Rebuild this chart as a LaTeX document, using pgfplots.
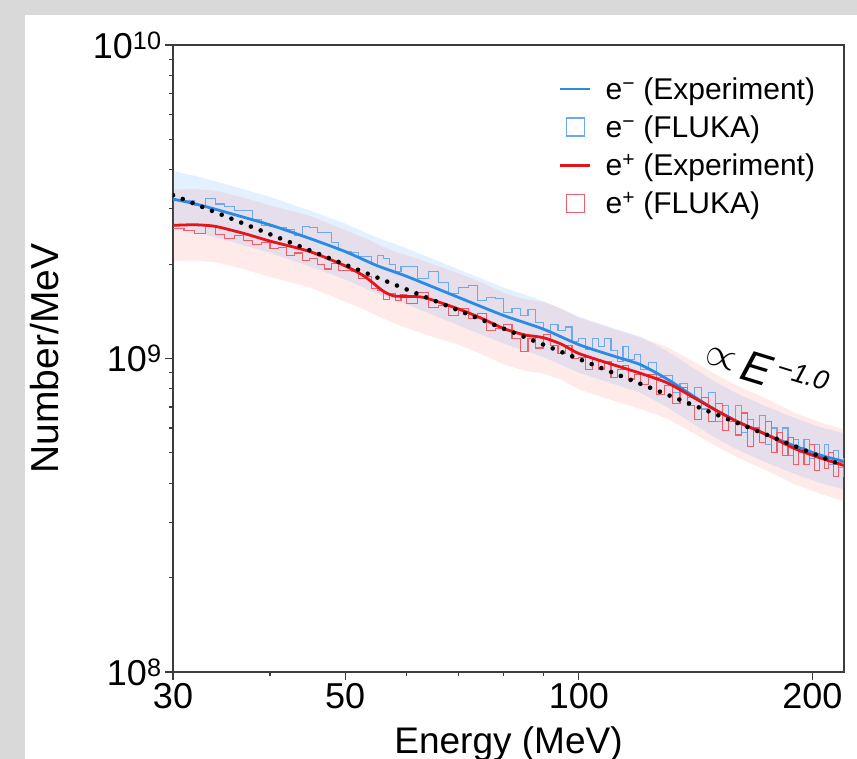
\documentclass[border=0pt]{standalone}
\usepackage{fontspec}
\setmainfont{Liberation Sans}
\usepackage{graphicx}
\usepackage{pgfplots}
\pgfplotsset{compat=1.18}
\definecolor{bgray}{RGB}{217,217,217}
\definecolor{eblue}{RGB}{40,140,230}
\definecolor{ered}{RGB}{230,20,25}
\definecolor{hblue}{RGB}{110,170,235}
\definecolor{hred}{RGB}{238,95,105}
\definecolor{bandblue}{RGB}{30,140,255}
\definecolor{bandred}{RGB}{255,70,70}
\definecolor{axgray}{RGB}{60,60,60}
\pgfplotsset{
 linelegend/.style={legend image code/.code={\draw[##1] (0bp,0bp) -- (30bp,0bp);}},
 boxlegend/.style={legend image code/.code={\draw[##1] (6bp,-9bp) rectangle (24bp,9bp);}}
}
\begin{document}
\begin{tikzpicture}
\fill[bgray] (0bp,0bp) rectangle (857bp,759bp);
\fill[white] (25bp,0bp) rectangle (857bp,744bp);
\begin{axis}[
  at={(173bp,87bp)}, anchor=south west,
  width=671bp, height=627bp, scale only axis,
  xmode=log, ymode=log,
  xmin=30, xmax=219.6, ymin=1e8, ymax=1e10,
  xtick={30,50,100,200}, xticklabels={30,50,100,200},
  minor xtick={40,60,70,80,90},
  ytick={1e8,1e9,1e10},
  yticklabels={10\textsuperscript{8},10\textsuperscript{9},10\textsuperscript{10}},
  minor ytick={2e8,3e8,4e8,5e8,6e8,7e8,8e8,9e8,2e9,3e9,4e9,5e9,6e9,7e9,8e9,9e9},
  tick align=outside, tick pos=left,
  major tick length=8bp, minor tick length=4.5bp,
  axis line style={axgray, line width=1.3bp},
  tick style={axgray, line width=1.2bp},
  tick label style={font=\fontsize{36bp}{40bp}\selectfont},
  xlabel={Energy (MeV)}, ylabel={Number/MeV},
  xlabel style={at={(axis description cs:0.5,-0.1145)}, anchor=center, font=\fontsize{37bp}{44bp}\selectfont},
  ylabel style={at={(axis description cs:-0.1908,0.5)}, anchor=center, font=\fontsize{39bp}{44bp}\selectfont},
  legend style={at={(0.9646,0.955)}, anchor=north east, draw=none, fill=none,
    font=\fontsize{30bp}{36bp}\selectfont, row sep=11bp, column sep=12bp, cells={anchor=west}},
]
% uncertainty bands
\addplot[fill=bandblue, fill opacity=0.12, draw=none, forget plot] coordinates {(30,3.958e9) (32,3.826e9) (35,3.603e9) (40,3.275e9) (45,2.966e9) (50,2.693e9) (55,2.427e9) (60,2.245e9) (70,1.923e9) (80,1.684e9) (90,1.524e9) (100,1.359e9) (110,1.257e9) (120,1.174e9) (130,1.055e9) (140,0.936e9) (150,0.841e9) (160,0.772e9) (175,0.700e9) (190,0.645e9) (205,0.603e9) (220,0.576e9)
 (220,0.382e9) (205,0.400e9) (190,0.428e9) (175,0.464e9) (160,0.512e9) (150,0.558e9) (140,0.621e9) (130,0.699e9) (120,0.778e9) (110,0.834e9) (100,0.901e9) (90,1.011e9) (80,1.116e9) (70,1.275e9) (60,1.489e9) (55,1.609e9) (50,1.786e9) (45,1.967e9) (40,2.172e9) (35,2.389e9) (32,2.537e9) (30,2.625e9)};
\addplot[fill=bandred, fill opacity=0.11, draw=none, forget plot] coordinates {(30,3.455e9) (32,3.471e9) (34,3.431e9) (37,3.258e9) (40,3.078e9) (45,2.852e9) (50,2.566e9) (53,2.42e9) (56,2.27e9) (58,2.19e9) (63,2.05e9) (70,1.869e9) (75,1.745e9) (80,1.620e9) (85,1.547e9) (90,1.515e9) (95,1.443e9) (100,1.348e9) (110,1.248e9) (120,1.166e9) (130,1.087e9) (140,0.982e9) (150,0.891e9) (160,0.818e9) (175,0.741e9) (190,0.670e9) (205,0.625e9) (220,0.592e9)
 (220,0.350e9) (205,0.370e9) (190,0.396e9) (175,0.438e9) (160,0.484e9) (150,0.527e9) (140,0.581e9) (130,0.643e9) (120,0.690e9) (110,0.738e9) (100,0.797e9) (95,0.854e9) (90,0.896e9) (85,0.915e9) (80,0.958e9) (75,1.032e9) (70,1.106e9) (63,1.20e9) (58,1.29e9) (56,1.34e9) (53,1.43e9) (50,1.518e9) (45,1.687e9) (40,1.821e9) (37,1.927e9) (34,2.029e9) (32,2.053e9) (30,2.044e9)};
% FLUKA histograms
\addplot[hblue, line width=1.1bp, const plot, forget plot] table {
x y
30 3.22e9
31 3.20e9
32 3.08e9
33 3.23e9
34 3.11e9
35 3.05e9
36 2.96e9
37 2.96e9
38 2.77e9
39 2.66e9
40 2.64e9
41 2.61e9
42 2.58e9
43 2.46e9
44 2.63e9
45 2.61e9
46 2.53e9
47 2.53e9
48 2.34e9
49 2.21e9
50 2.19e9
51 2.18e9
52 2.12e9
53 2.12e9
54 2.00e9
55 2.13e9
56 2.09e9
57 1.99e9
58 1.89e9
59 1.97e9
60 1.97e9
62 1.80e9
64 1.89e9
66 1.75e9
68 1.61e9
70 1.68e9
72 1.71e9
74 1.53e9
76 1.56e9
78 1.55e9
80 1.40e9
82 1.44e9
84 1.37e9
86 1.43e9
88 1.30e9
90 1.23e9
92 1.28e9
94 1.23e9
96 1.26e9
98 1.13e9
100 1.16e9
102 1.07e9
104 1.16e9
106 1.09e9
108 1.16e9
110 1.06e9
112 0.98e9
114 1.09e9
116 0.99e9
118 1.03e9
120 0.92e9
123 0.97e9
126 0.87e9
129 0.885e9
132 0.78e9
135 0.83e9
138 0.75e9
141 0.81e9
144 0.69e9
147 0.78e9
150 0.63e9
153 0.71e9
156 0.63e9
159 0.71e9
162 0.58e9
165 0.64e9
168 0.59e9
171 0.66e9
174 0.53e9
177 0.60e9
180 0.54e9
183 0.60e9
186 0.49e9
189 0.55e9
192 0.50e9
195 0.55e9
198 0.48e9
201 0.53e9
204 0.48e9
207 0.53e9
210 0.46e9
213 0.51e9
216 0.45e9
219 0.48e9
222 0.48e9
};
\addplot[hred, line width=1.1bp, const plot, forget plot] table {
x y
30 2.60e9
31 2.56e9
32 2.51e9
33 2.63e9
34 2.48e9
35 2.41e9
36 2.47e9
37 2.38e9
38 2.31e9
39 2.34e9
40 2.25e9
41 2.26e9
42 2.13e9
43 2.17e9
44 2.05e9
45 2.08e9
46 1.99e9
47 1.93e9
48 2.01e9
49 1.91e9
50 1.91e9
51 1.90e9
52 1.80e9
53 1.83e9
54 1.67e9
55 1.65e9
56 1.54e9
57 1.61e9
58 1.53e9
59 1.60e9
60 1.50e9
62 1.62e9
64 1.45e9
66 1.48e9
68 1.37e9
70 1.44e9
72 1.34e9
74 1.39e9
76 1.23e9
78 1.25e9
80 1.28e9
82 1.16e9
84 1.05e9
86 1.16e9
88 1.08e9
90 1.19e9
92 1.10e9
94 1.04e9
96 1.10e9
98 1.00e9
100 1.01e9
102 0.92e9
104 0.99e9
106 0.92e9
108 0.975e9
110 0.87e9
112 0.92e9
114 0.95e9
116 0.86e9
118 0.89e9
120 0.825e9
123 0.89e9
126 0.77e9
129 0.82e9
132 0.72e9
135 0.81e9
138 0.71e9
141 0.64e9
144 0.75e9
147 0.63e9
150 0.72e9
153 0.59e9
156 0.63e9
159 0.57e9
162 0.67e9
165 0.525e9
168 0.60e9
171 0.54e9
174 0.63e9
177 0.50e9
180 0.58e9
183 0.49e9
186 0.56e9
189 0.46e9
192 0.52e9
195 0.46e9
198 0.53e9
201 0.44e9
204 0.49e9
207 0.445e9
210 0.50e9
213 0.42e9
216 0.465e9
219 0.42e9
222 0.42e9
};
% experiment lines
\addplot[eblue, line width=2.8bp, smooth, tension=0.4, forget plot] coordinates {(30,3.223e9) (32,3.116e9) (35,2.934e9) (40,2.667e9) (45,2.415e9) (50,2.193e9) (55,1.976e9) (60,1.828e9) (70,1.566e9) (80,1.371e9) (90,1.241e9) (100,1.107e9) (110,1.024e9) (120,0.956e9) (130,0.859e9) (140,0.762e9) (150,0.685e9) (160,0.629e9) (175,0.570e9) (190,0.525e9) (205,0.491e9) (220,0.469e9)};
\addplot[ered, line width=2.8bp, smooth, tension=0.4, forget plot] coordinates {(30,2.658e9) (32,2.670e9) (34,2.639e9) (37,2.506e9) (40,2.368e9) (45,2.194e9) (50,1.974e9) (53,1.825e9) (56,1.638e9) (58,1.581e9) (63,1.567e9) (70,1.438e9) (75,1.342e9) (80,1.246e9) (85,1.190e9) (90,1.165e9) (95,1.110e9) (100,1.037e9) (110,0.960e9) (120,0.897e9) (130,0.836e9) (140,0.755e9) (150,0.685e9) (160,0.629e9) (175,0.570e9) (190,0.515e9) (205,0.481e9) (220,0.455e9)};
% power law
\addplot[black, line width=4.6bp, line cap=round, dash pattern=on 0bp off 10.5bp, forget plot] coordinates {(30,3.32e9) (220,4.53e8)};
% legend
\addlegendimage{draw=eblue, line width=2.5bp, linelegend}
\addlegendentry{e\textsuperscript{−} (Experiment)}
\addlegendimage{draw=hblue, line width=1.5bp, boxlegend}
\addlegendentry{e\textsuperscript{−} (FLUKA)}
\addlegendimage{draw=ered, line width=2.5bp, linelegend}
\addlegendentry{e\textsuperscript{+} (Experiment)}
\addlegendimage{draw=hred, line width=1.5bp, boxlegend}
\addlegendentry{e\textsuperscript{+} (FLUKA)}
\end{axis}
\node[rotate=-17, inner sep=0pt] at (767bp,389bp) {\fontsize{44bp}{46bp}\selectfont\raisebox{0.1em}{\scalebox{1.6}{$\propto$}}\,\textit{E}\raisebox{0.3em}{\fontsize{27bp}{28bp}\selectfont\textit{\,−1.0}}};
\pgfresetboundingbox
\useasboundingbox (0bp,0bp) rectangle (857bp,759bp);
\end{tikzpicture}
\end{document}
